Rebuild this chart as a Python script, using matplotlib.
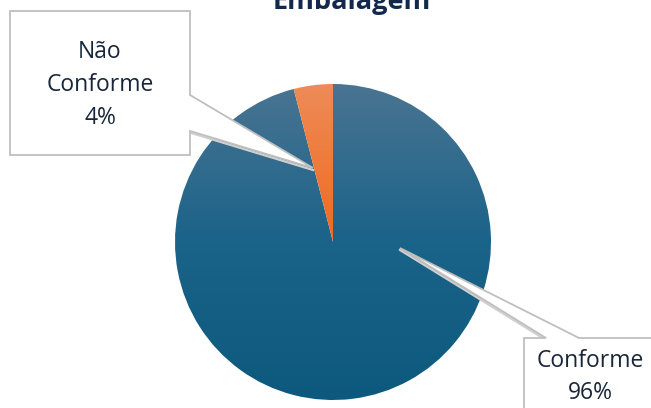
import numpy as np
import matplotlib
matplotlib.use("Agg")
import matplotlib.pyplot as plt
from matplotlib.patches import Polygon
from matplotlib.lines import Line2D
from matplotlib.colors import LinearSegmentedColormap

title = "Embalagem"
categories = ["Conforme", "Não Conforme"]
values = [96, 4]
label_lines = [["Conforme", "96%"], ["Não", "Conforme", "4%"]]

W, H = 651, 408
fig = plt.figure(figsize=(W / 100, H / 100), dpi=100)
ax = fig.add_axes([0, 0, 1, 1])

cx, cy, R = 333, H - 242, 158
wedges, _ = ax.pie(values, startangle=90, counterclock=False,
                   center=(cx, cy), radius=R,
                   wedgeprops=dict(linewidth=0, edgecolor="none"))
ax.set_xlim(0, W)
ax.set_ylim(0, H)
ax.set_aspect("equal")
ax.axis("off")

blue = LinearSegmentedColormap.from_list("b", [(0, "#0d597d"), (0.5, "#1a6389"), (1, "#4a7492")])
orange = LinearSegmentedColormap.from_list("o", [(0, "#f06a1e"), (1, "#ee8b58")])
grad = np.linspace(0, 1, 256).reshape(-1, 1)
for w, cmap, (y0, y1) in [(wedges[0], blue, (cy - R, cy + R)),
                           (wedges[1], orange, (cy, cy + R))]:
    w.set_facecolor("none")
    im = ax.imshow(grad, cmap=cmap, origin="lower", aspect="auto",
                   extent=(cx - R, cx + R, y0, y1), zorder=1)
    im.set_clip_path(w)
ax.set_xlim(0, W)
ax.set_ylim(0, H)

def yup(pts):
    return [(x, H - y) for x, y in pts]

edge = "#bfbfbf"
box1 = yup([(10, 11), (190, 11), (190, 95), (313, 168), (190, 131), (190, 155), (10, 155)])
box2 = yup([(524, 338), (546, 338), (400, 248), (579, 338), (660, 338), (660, 420), (524, 420)])
# faint shadows along pointers
for seg in [[(191, 133), (313, 170)], [(400, 250), (546, 340)]]:
    p = yup(seg)
    ax.add_line(Line2D([p[0][0], p[1][0]], [p[0][1], p[1][1]], color="#d0d0d0",
                       lw=1.6, zorder=3))
ax.add_patch(Polygon(box1, closed=True, facecolor="white", edgecolor=edge, lw=1.3, zorder=4))
ax.add_patch(Polygon(box2, closed=True, facecolor="white", edgecolor=edge, lw=1.3, zorder=4))

tc = "#18263a"
font = "Open Sans"
for i, t in enumerate(label_lines[1]):
    ax.text(100, H - (52 + 33 * i), t, ha="center", va="center", fontsize=16.5,
            color=tc, family=font, zorder=5)
for i, t in enumerate(label_lines[0]):
    ax.text(590, H - (361 + 32 * i), t, ha="center", va="center", fontsize=16.5,
            color=tc, family=font, zorder=5)

ax.text(352, H - 9, title, ha="center", va="baseline", fontsize=19.5,
        fontweight="bold", color="#13294b", family=font, zorder=5)

fig.savefig("out.png", dpi=100)
